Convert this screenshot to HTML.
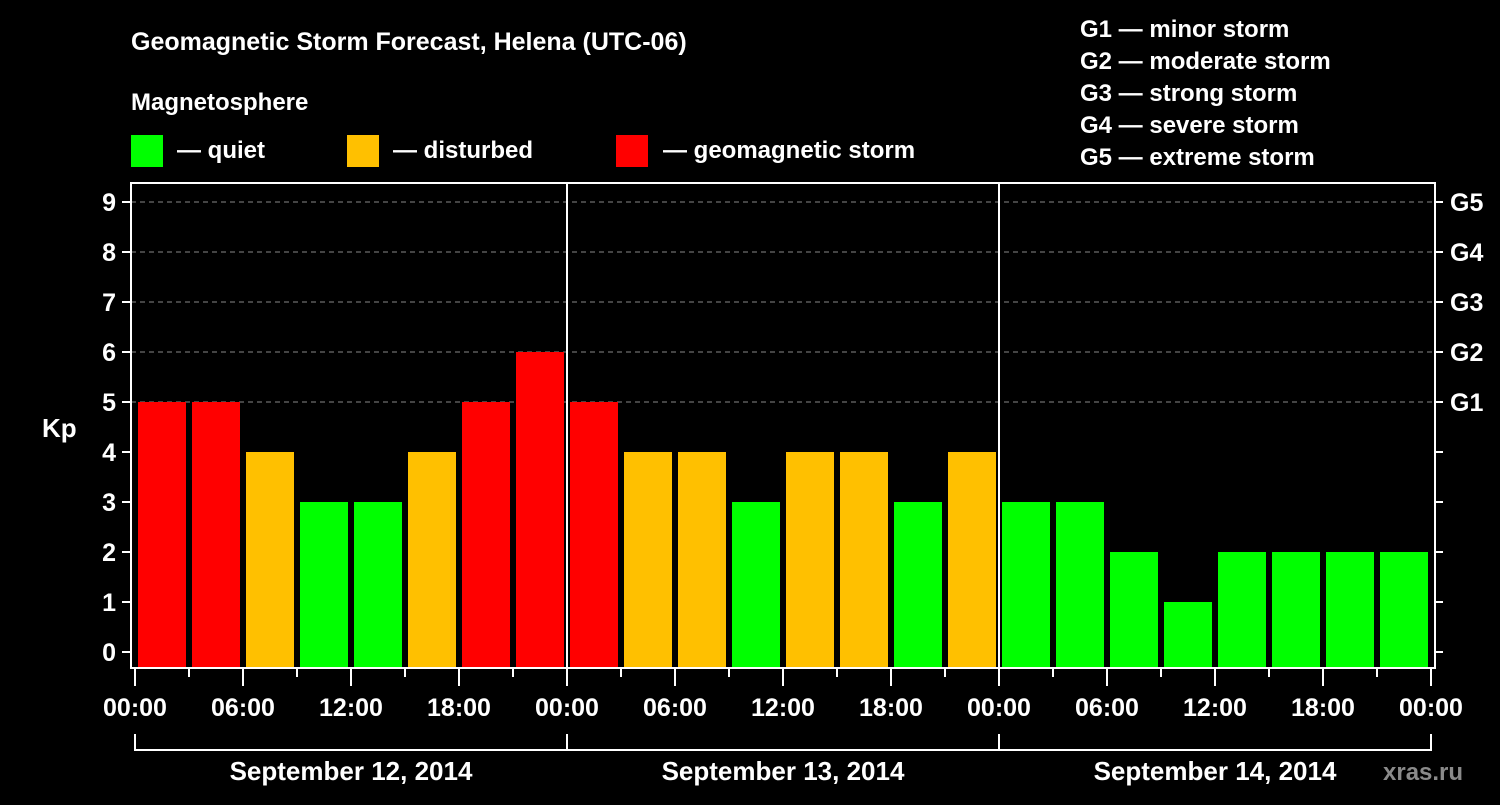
<!DOCTYPE html>
<html><head><meta charset="utf-8"><style>
body{margin:0;background:#000;}
svg text{font-family:"Liberation Sans",Arial,sans-serif;font-weight:bold;fill:#fff;}
</style></head><body>
<svg id="chart" width="1500" height="800" xmlns="http://www.w3.org/2000/svg">
<rect width="1500" height="800" fill="#000"/>
<text x="131" y="50" font-size="25">Geomagnetic Storm Forecast, Helena (UTC-06)</text>
<text x="131" y="110" font-size="24">Magnetosphere</text>
<g><rect x="131" y="135" width="32" height="32" fill="#00ff00"/><text x="177" y="158" font-size="24">— quiet</text></g>
<g><rect x="347" y="135" width="32" height="32" fill="#ffc000"/><text x="393" y="158" font-size="24">— disturbed</text></g>
<g><rect x="616" y="135" width="32" height="32" fill="#ff0000"/><text x="663" y="158" font-size="24">— geomagnetic storm</text></g>
<g font-size="24">
<text x="1080" y="37">G1 — minor storm</text>
<text x="1080" y="69">G2 — moderate storm</text>
<text x="1080" y="101">G3 — strong storm</text>
<text x="1080" y="133">G4 — severe storm</text>
<text x="1080" y="165">G5 — extreme storm</text>
</g>
<text x="42" y="437" font-size="26">Kp</text>
<text x="1383" y="780" font-size="24" fill="#888" style="fill:#8a8a8a">xras.ru</text>
<g id="grid"></g><g id="bars"></g><g id="axes"></g>
</svg>
<script>
const kpValues=[5,5,4,3,3,4,5,6, 5,4,4,3,4,4,3,4, 3,3,2,1,2,2,2,2];
const yTicks=[0,1,2,3,4,5,6,7,8,9];
const gLabels=["G1","G2","G3","G4","G5"];
const gLevels=[5,6,7,8,9];
const timeLabels=["00:00","06:00","12:00","18:00","00:00","06:00","12:00","18:00","00:00","06:00","12:00","18:00","00:00"];
const dayLabels=["September 12, 2014","September 13, 2014","September 14, 2014"];
const NS="http://www.w3.org/2000/svg";
const L=131,R=1435,T=183,B=668,X0=135,slot=54;
const y=v=>652-v*50;
const x=i=>X0+i*slot;
function mk(tag,attrs,parent,txt){const e=document.createElementNS(NS,tag);for(const k in attrs)e.setAttribute(k,attrs[k]);if(txt!==undefined)e.textContent=txt;document.getElementById(parent).appendChild(e);return e;}
const color=v=>v>=5?"#ff0000":(v>=4?"#ffc000":"#00ff00");
yTicks.forEach(v=>{
 if(v>=5){const g=mk("line",{x1:L,x2:R,y1:y(v),y2:y(v),stroke:"#888","stroke-dasharray":"5,4","stroke-width":1},"grid");
 
 }
 const t=mk("line",{x1:122,x2:L,y1:y(v),y2:y(v),stroke:"#fff","stroke-width":2},"axes");
 
 
 const r=mk("line",{x1:R,x2:1443,y1:y(v),y2:y(v),stroke:"#fff","stroke-width":2},"axes");
 
 
 const lb=mk("text",{x:116,y:y(v)+9,"font-size":25,"text-anchor":"end"},"axes",String(v));
 
 
});
gLabels.forEach((g,i)=>{
 const t=mk("text",{x:1450,y:y(gLevels[i])+9,"font-size":25},"axes",g);
 
 
});
kpValues.forEach((v,i)=>{
 const b=mk("rect",{x:x(i)+3,y:y(v),width:48,height:B-y(v),fill:color(v)},"bars");
 
 
});
mk("rect",{x:L,y:T,width:R-L,height:B-T,fill:"none",stroke:"#fff","stroke-width":2},"axes");
[1,2].forEach(d=>{
 const l=mk("line",{x1:x(d*8),x2:x(d*8),y1:T,y2:B,stroke:"#fff","stroke-width":2},"axes");
 
 
});
for(let i=0;i<=24;i++){
 const long=i%2===0;
 const t=mk("line",{x1:x(i),x2:x(i),y1:B,y2:long?686:677,stroke:"#fff","stroke-width":2},"axes");
 
 
}
timeLabels.forEach((s,i)=>{
 const t=mk("text",{x:x(i*2),y:716,"font-size":25,"text-anchor":"middle"},"axes",s);
 
 
});
mk("path",{d:`M${x(0)},734V750H${x(24)}V734`,fill:"none",stroke:"#fff","stroke-width":2},"axes");
[8,16].forEach(i=>mk("line",{x1:x(i),x2:x(i),y1:734,y2:750,stroke:"#fff","stroke-width":2},"axes"));
dayLabels.forEach((s,d)=>{
 const t=mk("text",{x:x(d*8+4),y:780,"font-size":26,"text-anchor":"middle"},"axes",s);
 
 
});
</script>
</body></html>
